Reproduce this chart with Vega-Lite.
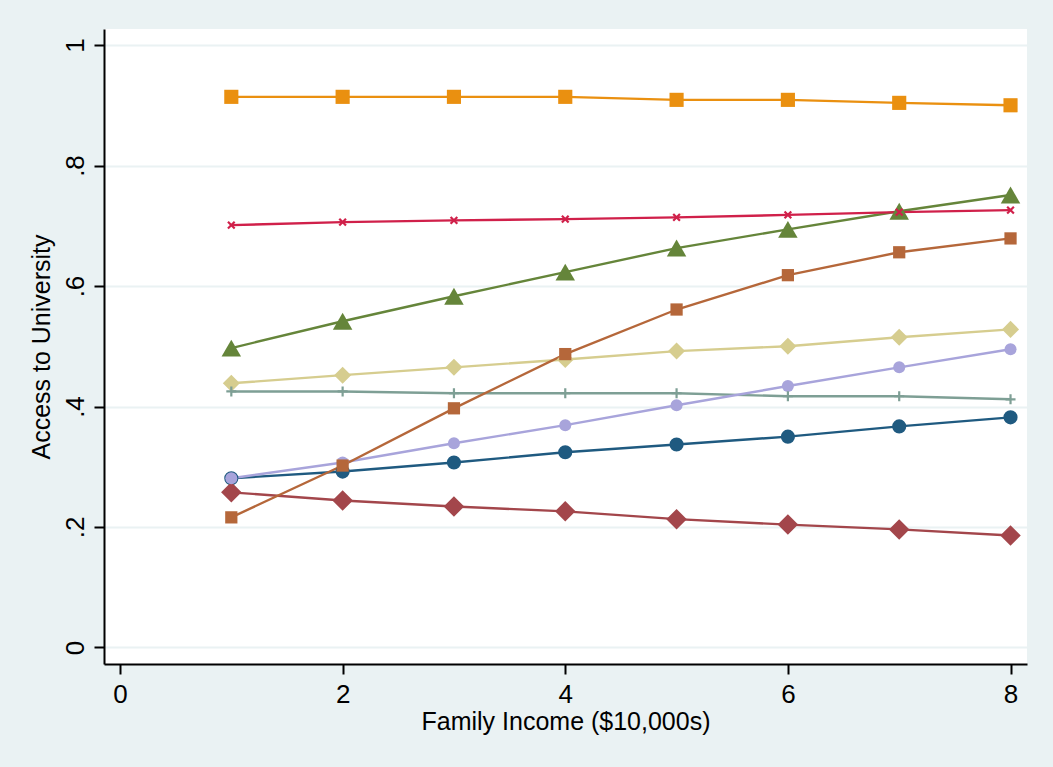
{
  "$schema": "https://vega.github.io/schema/vega-lite/v6.json",
  "width": 923,
  "height": 635,
  "autosize": {"type": "none"},
  "padding": {"left": 104, "top": 29, "right": 26, "bottom": 103},
  "background": "#EAF2F3",
  "config": {
    "view": {"fill": "white", "stroke": null},
    "font": "Liberation Sans",
    "axis": {
      "labelFont": "Liberation Sans",
      "titleFont": "Liberation Sans",
      "labelFontSize": 26,
      "titleFontSize": 25,
      "titleFontWeight": "normal",
      "labelColor": "black",
      "titleColor": "black",
      "domainColor": "black",
      "domainWidth": 2,
      "tickColor": "black",
      "tickWidth": 2,
      "tickSize": 10,
      "gridColor": "#EAF2F3",
      "gridWidth": 2,
      "gridOpacity": 1
    }
  },
  "data": {
    "values": [
      {"series": "s1", "income": 1, "access": 0.281},
      {"series": "s1", "income": 2, "access": 0.292},
      {"series": "s1", "income": 3, "access": 0.307},
      {"series": "s1", "income": 4, "access": 0.324},
      {"series": "s1", "income": 5, "access": 0.337},
      {"series": "s1", "income": 6, "access": 0.350},
      {"series": "s1", "income": 7, "access": 0.367},
      {"series": "s1", "income": 8, "access": 0.382},
      {"series": "s2", "income": 1, "access": 0.2575},
      {"series": "s2", "income": 2, "access": 0.244},
      {"series": "s2", "income": 3, "access": 0.234},
      {"series": "s2", "income": 4, "access": 0.226},
      {"series": "s2", "income": 5, "access": 0.213},
      {"series": "s2", "income": 6, "access": 0.204},
      {"series": "s2", "income": 7, "access": 0.196},
      {"series": "s2", "income": 8, "access": 0.186},
      {"series": "s3", "income": 1, "access": 0.497},
      {"series": "s3", "income": 2, "access": 0.5415},
      {"series": "s3", "income": 3, "access": 0.583},
      {"series": "s3", "income": 4, "access": 0.623},
      {"series": "s3", "income": 5, "access": 0.663},
      {"series": "s3", "income": 6, "access": 0.694},
      {"series": "s3", "income": 7, "access": 0.724},
      {"series": "s3", "income": 8, "access": 0.751},
      {"series": "s4", "income": 1, "access": 0.914},
      {"series": "s4", "income": 2, "access": 0.914},
      {"series": "s4", "income": 3, "access": 0.914},
      {"series": "s4", "income": 4, "access": 0.914},
      {"series": "s4", "income": 5, "access": 0.909},
      {"series": "s4", "income": 6, "access": 0.909},
      {"series": "s4", "income": 7, "access": 0.904},
      {"series": "s4", "income": 8, "access": 0.900},
      {"series": "s5", "income": 1, "access": 0.425},
      {"series": "s5", "income": 2, "access": 0.425},
      {"series": "s5", "income": 3, "access": 0.422},
      {"series": "s5", "income": 4, "access": 0.422},
      {"series": "s5", "income": 5, "access": 0.422},
      {"series": "s5", "income": 6, "access": 0.417},
      {"series": "s5", "income": 7, "access": 0.417},
      {"series": "s5", "income": 8, "access": 0.412},
      {"series": "s6", "income": 1, "access": 0.701},
      {"series": "s6", "income": 2, "access": 0.706},
      {"series": "s6", "income": 3, "access": 0.709},
      {"series": "s6", "income": 4, "access": 0.711},
      {"series": "s6", "income": 5, "access": 0.714},
      {"series": "s6", "income": 6, "access": 0.718},
      {"series": "s6", "income": 7, "access": 0.7226},
      {"series": "s6", "income": 8, "access": 0.726},
      {"series": "s7", "income": 1, "access": 0.281},
      {"series": "s7", "income": 2, "access": 0.307},
      {"series": "s7", "income": 3, "access": 0.339},
      {"series": "s7", "income": 4, "access": 0.369},
      {"series": "s7", "income": 5, "access": 0.402},
      {"series": "s7", "income": 6, "access": 0.434},
      {"series": "s7", "income": 7, "access": 0.465},
      {"series": "s7", "income": 8, "access": 0.495},
      {"series": "s8", "income": 1, "access": 0.4385},
      {"series": "s8", "income": 2, "access": 0.452},
      {"series": "s8", "income": 3, "access": 0.465},
      {"series": "s8", "income": 4, "access": 0.478},
      {"series": "s8", "income": 5, "access": 0.492},
      {"series": "s8", "income": 6, "access": 0.500},
      {"series": "s8", "income": 7, "access": 0.515},
      {"series": "s8", "income": 8, "access": 0.528},
      {"series": "s9", "income": 1, "access": 0.216},
      {"series": "s9", "income": 2, "access": 0.302},
      {"series": "s9", "income": 3, "access": 0.397},
      {"series": "s9", "income": 4, "access": 0.487},
      {"series": "s9", "income": 5, "access": 0.561},
      {"series": "s9", "income": 6, "access": 0.618},
      {"series": "s9", "income": 7, "access": 0.656},
      {"series": "s9", "income": 8, "access": 0.679}
    ]
  },
  "encoding": {
    "x": {
      "field": "income", "type": "quantitative",
      "scale": {"domain": [-0.1437, 8.148], "nice": false, "zero": false},
      "axis": {"values": [0, 2, 4, 6, 8], "grid": false, "title": "Family Income ($10,000s)", "labelPadding": 7, "titlePadding": 2, "labelFlush": false}
    },
    "y": {
      "field": "access", "type": "quantitative",
      "scale": {"domain": [-0.0274, 1.0266], "nice": false, "zero": false},
      "axis": {"values": [0, 0.2, 0.4, 0.6, 0.8, 1], "grid": true, "title": "Access to University",
        "labelAngle": -90, "labelAlign": "center", "labelBaseline": "bottom", "labelPadding": 6, "titlePadding": 8,
        "labelFlush": false,
        "labelExpr": "replace(format(datum.value, '.1~f'), '0.', '.')"}
    },
    "color": {
      "field": "series", "type": "nominal", "legend": null,
      "scale": {
        "domain": ["s1", "s2", "s3", "s4", "s5", "s6", "s7", "s8", "s9"],
        "range": ["#1F5A80", "#A3464B", "#65853A", "#EA9010", "#7E9F95", "#D0204A", "#A8A4DB", "#D6CD8F", "#B5673A"]
      }
    }
  },
  "resolve": {"scale": {"shape": "independent", "size": "independent"}},
  "layer": [
    {
      "mark": {"type": "line", "strokeWidth": 2.4},
      "encoding": {"detail": {"field": "series"}}
    },
    {
      "transform": [{"filter": "datum.series != 's5' && datum.series != 's6'"}],
      "mark": {"type": "point", "filled": true, "opacity": 1},
      "encoding": {
        "shape": {
          "field": "series", "type": "nominal", "legend": null,
          "scale": {
            "domain": ["s1", "s2", "s3", "s4", "s7", "s8", "s9"],
            "range": ["circle", "diamond", "triangle-up", "square", "circle", "diamond", "square"]
          }
        },
        "size": {
          "field": "series", "type": "nominal", "legend": null,
          "scale": {
            "type": "ordinal",
            "domain": ["s1", "s2", "s3", "s4", "s7", "s8", "s9"],
            "range": [200, 420, 380, 200, 145, 290, 150]
          }
        }
      }
    },
    {
      "transform": [{"filter": "datum.series == 's5' || datum.series == 's6'"}],
      "mark": {"type": "point", "filled": false, "opacity": 1, "strokeWidth": 2.2},
      "encoding": {
        "shape": {
          "field": "series", "type": "nominal", "legend": null,
          "scale": {
            "domain": ["s5", "s6"],
            "range": ["M-1,0H1M0,-1V1", "M-1,-1L1,1M-1,1L1,-1"]
          }
        },
        "size": {
          "field": "series", "type": "nominal", "legend": null,
          "scale": {"type": "ordinal", "domain": ["s5", "s6"], "range": [100, 45]}
        }
      }
    }
  ]
}
